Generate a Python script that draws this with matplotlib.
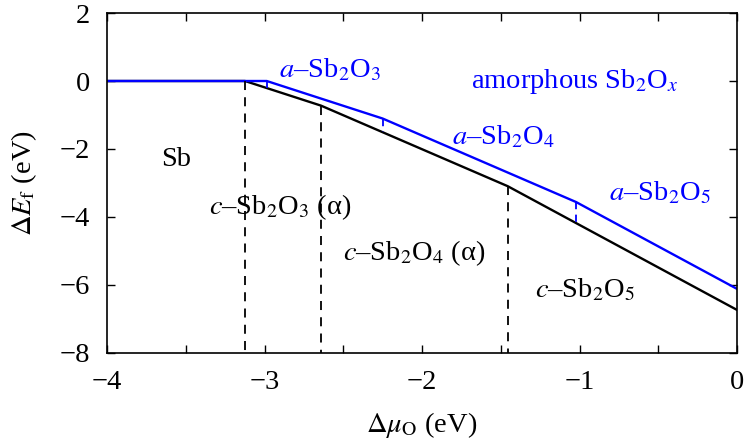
import numpy as np
import matplotlib.pyplot as plt
from matplotlib.ticker import MultipleLocator

plt.rcParams['font.family'] = ['Liberation Serif', 'DejaVu Serif']
plt.rcParams['mathtext.fontset'] = 'stix'

# crystalline hull (black): vertices
c_mu = [-4.0, -3.124, -2.641, -1.456, 0.0]
c_E = [0.0, 0.0, -0.725, -3.094, -6.734]

# amorphous hull (blue): vertices
a_mu = [-4.0, -2.986, -2.25, -1.022, 0.0]
a_E = [0.0, 0.0, -1.104, -3.56, -6.115]

labels_black = [
    ('Sb', -3.56, -2.3, 'center'),
    (r'$c$–Sb$_2$O$_3$ (α)', -3.35, -3.7, 'left'),
    (r'$c$–Sb$_2$O$_4$ (α)', -2.50, -5.05, 'left'),
    (r'$c$–Sb$_2$O$_5$', -1.28, -6.15, 'left'),
]
labels_blue = [
    (r'$a$–Sb$_2$O$_3$', -2.91, 0.32, 'left'),
    (r'amorphous Sb$_2$O$_x$', -1.69, 0.0, 'left'),
    (r'$a$–Sb$_2$O$_4$', -1.81, -1.65, 'left'),
    (r'$a$–Sb$_2$O$_5$', -0.81, -3.3, 'left'),
]

FS = 20.5

fig = plt.figure(figsize=(7.51, 4.44), dpi=100)
ax = fig.add_axes([0.1425, 0.205, 0.8389, 0.7657])

ax.plot(c_mu, c_E, color='black', lw=1.7)
ax.plot(a_mu, a_E, color='#0000ff', lw=1.7)

# phase boundaries
for m, e in zip(c_mu[1:4], c_E[1:4]):
    ax.plot([m, m], [e, -8], color='black', lw=1.3, ls=(0, (5, 4)))
for m, e in zip(a_mu[1:4], a_E[1:4]):
    eb = np.interp(m, c_mu, c_E)
    ax.plot([m, m], [e, eb], color='#0000ff', lw=1.3, ls=(0, (4, 3)))

for t, x, y, ha in labels_black:
    ax.text(x, y, t, color='black', fontsize=FS, ha=ha, va='center')
for t, x, y, ha in labels_blue:
    ax.text(x, y, t, color='#0000ff', fontsize=FS, ha=ha, va='center')

ax.set_xlim(-4, 0)
ax.set_ylim(-8, 2)
ax.xaxis.set_major_locator(MultipleLocator(1))
ax.xaxis.set_minor_locator(MultipleLocator(0.5))
ax.yaxis.set_major_locator(MultipleLocator(2))
ax.tick_params(which='both', direction='in', top=True, right=True,
               length=6, width=1.0, labelsize=FS)
ax.tick_params(axis='x', pad=12)
ax.tick_params(axis='y', pad=12)
for s in ax.spines.values():
    s.set_linewidth(1.2)

ax.set_xlabel(r'$\Delta\mu_\mathrm{O}$ (eV)', fontsize=FS, labelpad=11)
ax.set_ylabel(r'$\Delta E_\mathrm{f}$ (eV)', fontsize=FS, labelpad=15)

fig.savefig('out.png', dpi=100)
